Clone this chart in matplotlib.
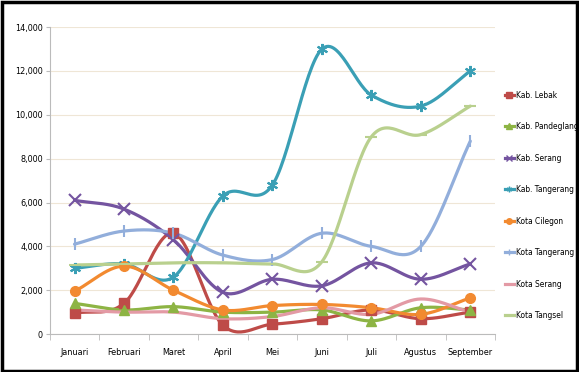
import numpy as np
import matplotlib
matplotlib.use("Agg")
import matplotlib.pyplot as plt
from matplotlib.lines import Line2D
from matplotlib.patches import Rectangle

months = ["Januari", "Februari", "Maret", "April", "Mei", "Juni", "Juli", "Agustus", "September"]
kab_lebak = [950, 1400, 4600, 400, 450, 700, 1100, 700, 1000]
kab_pandeglang = [1400, 1100, 1250, 1000, 1000, 1100, 600, 1200, 1100]
kab_serang = [6100, 5700, 4300, 1900, 2500, 2200, 3250, 2500, 3200]
kab_tangerang = [3000, 3200, 2600, 6300, 6800, 13000, 10900, 10400, 12000]
kota_cilegon = [1950, 3100, 2000, 1100, 1300, 1350, 1200, 900, 1650]
kota_tangerang = [4100, 4700, 4600, 3600, 3400, 4600, 4000, 4000, 8800]
kota_serang = [1100, 1000, 1000, 700, 800, 1200, 900, 1600, 1000]
kota_tangsel = [3150, 3200, 3250, 3250, 3200, 3300, 9000, 9100, 10400]

series_names = ["Kab. Lebak", "Kab. Pandeglang", "Kab. Serang", "Kab. Tangerang",
                "Kota Cilegon", "Kota Tangerang", "Kota Serang", "Kota Tangsel"]
series_vals = [kab_lebak, kab_pandeglang, kab_serang, kab_tangerang,
               kota_cilegon, kota_tangerang, kota_serang, kota_tangsel]
colors = ["#BE4B48", "#8DB444", "#7454A0", "#3A9FB5", "#F28A30", "#92AEDB", "#E39AA5", "#B9D08E"]
markers = ["s", "^", "x", (6, 2, 0), "o", "|", None, "_"]
yticks = [0, 2000, 4000, 6000, 8000, 10000, 12000, 14000]

plt.rcParams["font.family"] = ["DejaVu Sans"]
plt.rcParams["font.stretch"] = "condensed"


def smooth(y, n=30):
    x = np.arange(len(y), dtype=float)
    y = np.asarray(y, dtype=float)
    px = np.concatenate([[2 * x[0] - x[1]], x, [2 * x[-1] - x[-2]]])
    py = np.concatenate([[2 * y[0] - y[1]], y, [2 * y[-1] - y[-2]]])
    xs, ys = [], []
    for i in range(1, len(px) - 2):
        t = np.linspace(0, 1, n, endpoint=False)
        for arr, out in ((px, xs), (py, ys)):
            p0, p1, p2, p3 = arr[i - 1], arr[i], arr[i + 1], arr[i + 2]
            m1 = (p2 - p0) / 6.0
            m2 = (p3 - p1) / 6.0
            b0, b1, b2, b3 = p1, p1 + m1, p2 - m2, p2
            out.extend((1 - t) ** 3 * b0 + 3 * (1 - t) ** 2 * t * b1 + 3 * (1 - t) * t ** 2 * b2 + t ** 3 * b3)
    xs.append(x[-1]); ys.append(y[-1])
    return np.array(xs), np.array(ys)


fig = plt.figure(figsize=(5.79, 3.72), dpi=100)
fig.patch.set_facecolor("white")
fig.patches.append(Rectangle((0.004, 0.004), 0.992, 0.99, transform=fig.transFigure,
                             fill=False, edgecolor="black", linewidth=2.5))

ax = fig.add_axes([0.086, 0.102, 0.769, 0.825])
ax.set_xlim(-0.5, len(months) - 0.5)
ax.set_ylim(0, 14000)
ax.set_yticks(yticks)
ax.set_yticklabels([f"{v:,}" for v in yticks], fontsize=6.5)
ax.yaxis.grid(True, color="#EFE6D6", linewidth=0.8)
ax.set_axisbelow(True)
for s in ["top", "right"]:
    ax.spines[s].set_visible(False)
ax.spines["left"].set_color("#BBBBBB")
ax.spines["bottom"].set_color("#BBBBBB")
ax.set_xticks(np.arange(len(months)))
ax.set_xticklabels(months, fontsize=6.5)
ax.tick_params(axis="x", length=0, pad=10)
ax.tick_params(axis="y", length=3, color="#BBBBBB", pad=2)
ax.set_xticks(np.arange(len(months) + 1) - 0.5, minor=True)
ax.tick_params(axis="x", which="minor", length=4, color="#BBBBBB")

handles = []
for name, vals, c, m in zip(series_names, series_vals, colors, markers):
    xs, ys = smooth(vals)
    ax.plot(xs, ys, color=c, linewidth=2.3, solid_capstyle="round", zorder=3)
    if m is not None:
        big = m in ("x", "|", "_") or isinstance(m, tuple)
        ax.plot(np.arange(len(vals)), vals, linestyle="none", marker=m, color=c,
                markersize=8 if big else 7, markeredgewidth=1.5 if big else 1, zorder=4)
    handles.append(Line2D([0], [0], color=c, linewidth=2.3, marker=m if m else None,
                          markersize=4, markeredgewidth=1.0))

leg = fig.legend(handles, series_names, loc="upper left", bbox_to_anchor=(0.866, 0.765),
                 frameon=False, fontsize=6.0, handlelength=1.1, handletextpad=0.2,
                 labelspacing=2.7, borderaxespad=0)

fig.savefig("out.png", dpi=100)
